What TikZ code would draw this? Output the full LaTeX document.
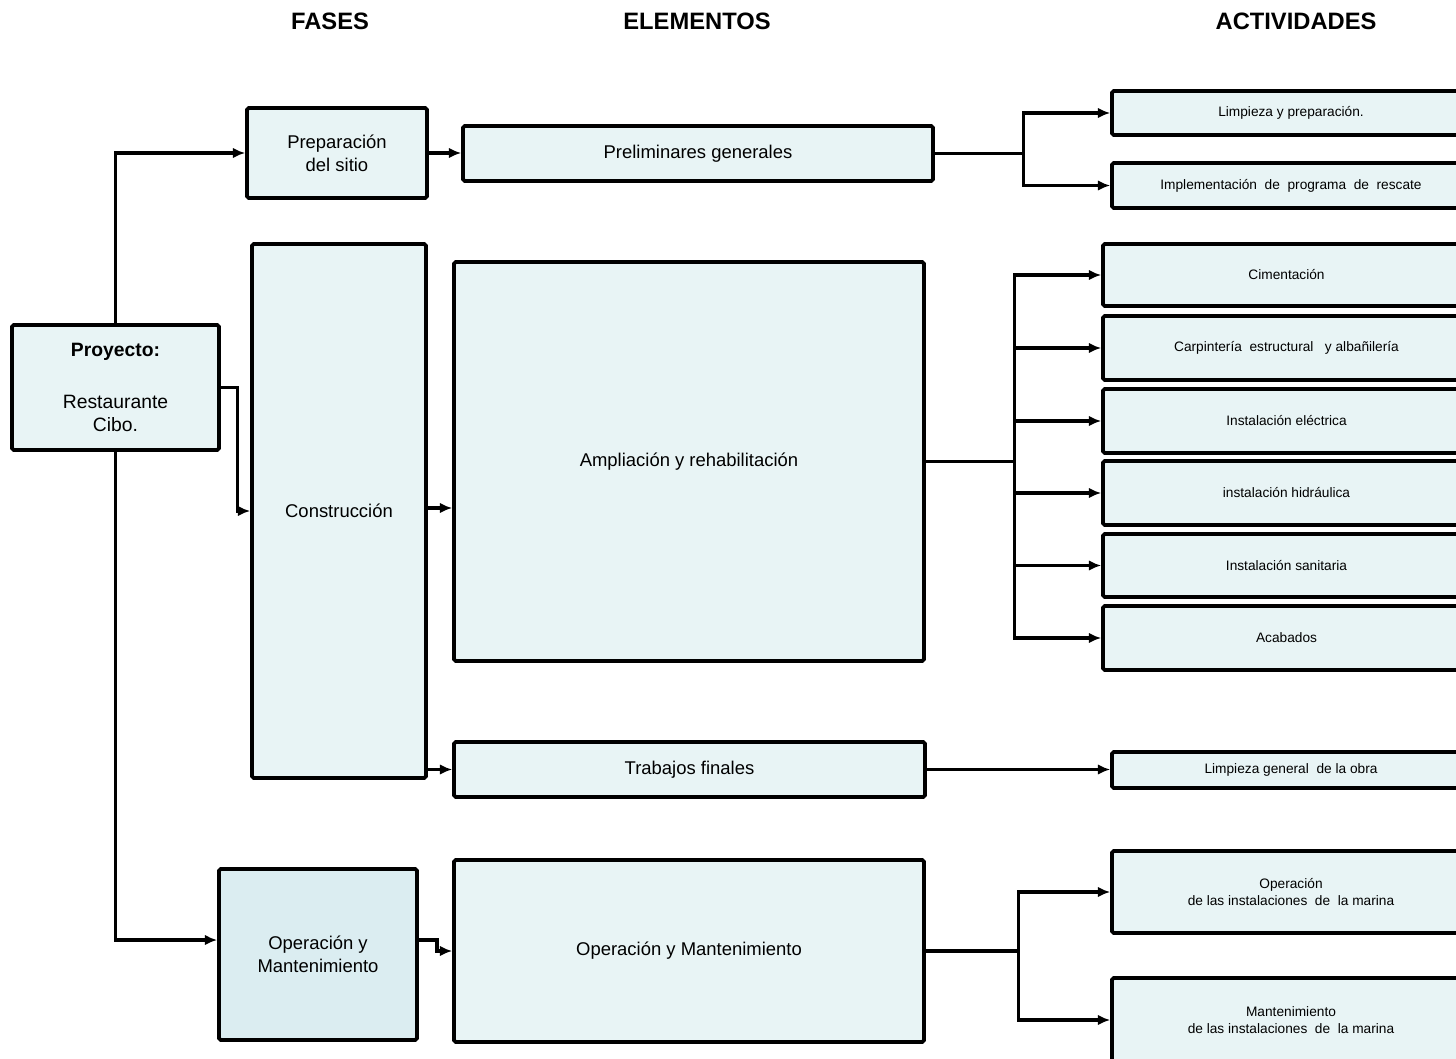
\documentclass[tikz,border=0pt]{standalone}
\usepackage{fontspec}
\setmainfont{Liberation Sans}
\usetikzlibrary{arrows.meta,calc}

\definecolor{boxfill}{HTML}{E8F4F5}
\definecolor{phasefill}{HTML}{DBEDF1}

\tikzset{
  box/.style={draw, line width=2.1pt, fill=boxfill, rounded corners=1pt, inner sep=2pt,
    align=center, font=\fontsize{10.5}{13}\selectfont},
  act/.style={box, font=\fontsize{7.8}{10}\selectfont},
  head/.style={font=\fontsize{13.5}{15}\selectfont\bfseries},
  link/.style={line width=1.9pt, -{Latex[length=7pt,width=6pt]}},
  wire/.style={line width=1.9pt}
}

\begin{document}
\begin{tikzpicture}[x=0.02cm,y=-0.02cm]
                      \useasboundingbox (0,0) rectangle (1456,1058);
                      % titles
                      \node[head] (HFases) at (330,21) {FASES};
                      \node[head] (HElem) at (697,21) {ELEMENTOS};
                      \node[head] (HAct) at (1296,21) {ACTIVIDADES};
                      % project and phases
                      \node[box, minimum width=4.14cm, minimum height=2.5cm, font=\fontsize{11}{13}\selectfont] (Proyecto) at (115.5,387.5) {\textbf{Proyecto:}\\[17pt]Restaurante\\Cibo.};
                      \node[box, minimum width=3.6cm, minimum height=1.8cm] (Prep) at (337,153) {Preparación\\del sitio};
                      \node[box, minimum width=3.48cm, minimum height=10.68cm] (Constr) at (339,511) {Construcción};
                      \node[box, fill=phasefill, minimum width=3.96cm, minimum height=3.42cm] (OyMF) at (318,954.5) {Operación y\\Mantenimiento};
                      % elements
                      \node[box, minimum width=9.4cm, minimum height=1.1cm] (Prelim) at (698,153.5) {Preliminares generales};
                      \node[box, minimum width=9.4cm, minimum height=7.98cm] (Ampl) at (689,461.5) {Ampliación y rehabilitación};
                      \node[box, minimum width=9.42cm, minimum height=1.1cm] (Trab) at (689.5,769.5) {Trabajos finales};
                      \node[box, minimum width=9.4cm, minimum height=3.64cm] (OyME) at (689,951) {Operación y Mantenimiento};
                      % activities
                      \node[act, minimum width=7.16cm, minimum height=0.88cm] (Lim) at (1291,113) {Limpieza y preparación.};
                      \node[act, minimum width=7.16cm, minimum height=0.9cm] (Impl) at (1291,185.5) {Implementación \ de \ programa \ de \ rescate};
                      \node[act, minimum width=7.34cm, minimum height=1.24cm] (Cim) at (1286.5,275) {Cimentación};
                      \node[act, minimum width=7.34cm, minimum height=1.28cm] (Carp) at (1286.5,348) {Carpintería \ estructural \ \ y albañilería};
                      \node[act, minimum width=7.34cm, minimum height=1.28cm] (Elec) at (1286.5,421) {Instalación eléctrica};
                      \node[act, minimum width=7.34cm, minimum height=1.28cm] (Hid) at (1286.5,493) {instalación hidráulica};
                      \node[act, minimum width=7.34cm, minimum height=1.26cm] (San) at (1286.5,565.5) {Instalación sanitaria};
                      \node[act, minimum width=7.34cm, minimum height=1.28cm] (Acab) at (1286.5,638) {Acabados};
                      \node[act, minimum width=7.16cm, minimum height=0.72cm] (LimG) at (1291,770) {Limpieza general \ de la obra};
                      \node[act, minimum width=7.16cm, minimum height=1.64cm] (Op) at (1291,892) {Operación\\de las instalaciones \ de \ la marina};
                      \node[act, minimum width=7.16cm, minimum height=1.68cm] (Mant) at (1291,1020) {Mantenimiento\\de las instalaciones \ de \ la marina};
                      % project to phases
                      \draw[link] (Proyecto.north) |- (Prep.west);
                      \draw[link] (Proyecto.east) -- ++(17,0) |- (Constr.west);
                      \draw[link] (Proyecto.south) |- ($(OyMF.west)+(0,-14.5)$);
                      % phases to elements
                      \draw[link] (Prep.east) -- (Prelim.west |- Prep.east);
                      \draw[link] (Constr.east |- 0,508) -- (Ampl.west |- 0,508);
                      \draw[link] (Constr.east |- Trab.west) -- (Trab.west);
                      \draw[link] ($(OyMF.east)+(0,-14.5)$) -- ++(18,0) |- (OyME.west);
                      % elements to activities
                      \draw[wire] (Prelim.east) -- ++(89,0) coordinate (J1);
                      \draw[link] (J1) |- (Lim.west);
                      \draw[link] (J1) |- (Impl.west);
                      \draw[wire] (Ampl.east) -- ++(89,0) coordinate (J2);
                      \foreach \n in {Cim,Carp,Elec,Hid,San,Acab}
                        \draw[link] (J2) |- (\n.west);
                      \draw[link] (Trab.east) -- (LimG.west |- Trab.east);
                      \draw[wire] (OyME.east) -- ++(93,0) coordinate (J3);
                      \draw[link] (J3) |- (Op.west);
                      \draw[link] (J3) |- (Mant.west);
                    \end{tikzpicture}
\end{document}
